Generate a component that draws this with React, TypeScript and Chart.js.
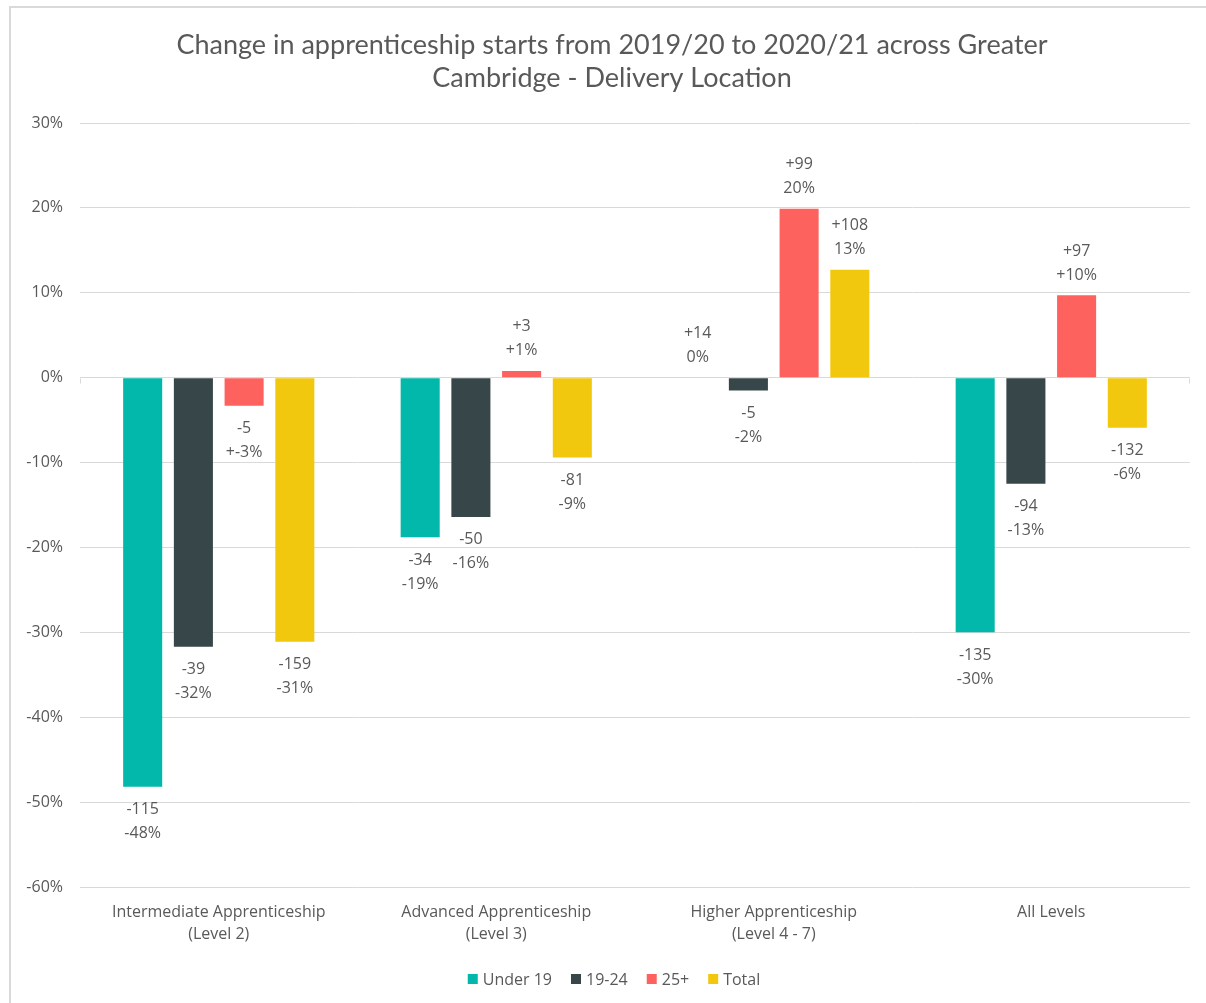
import React, { useEffect, useRef } from "react";
import { Chart, registerables } from "chart.js";

Chart.register(...registerables);

const titleLines = [
  "Change in apprenticeship starts from 2019/20 to 2020/21 across Greater",
  "Cambridge - Delivery Location",
];
const categories = [
  ["Intermediate Apprenticeship", "(Level 2)"],
  ["Advanced Apprenticeship", "(Level 3)"],
  ["Higher Apprenticeship", "(Level 4 - 7)"],
  ["All Levels"],
];
const seriesNames = ["Under 19", "19-24", "25+", "Total"];
const seriesColors = ["#01B8AA", "#374649", "#FD625E", "#F2C80F"];

const under19Pct = [-48.2, -18.8, 0, -30.0];
const age1924Pct = [-31.7, -16.4, -1.5, -12.5];
const age25Pct = [-3.3, 0.8, 19.9, 9.7];
const totalPct = [-31.1, -9.4, 12.7, -5.9];

const under19Counts = ["-115", "-34", "+14", "-135"];
const age1924Counts = ["-39", "-50", "-5", "-94"];
const age25Counts = ["-5", "+3", "+99", "+97"];
const totalCounts = ["-159", "-81", "+108", "-132"];

const under19Labels = ["-48%", "-19%", "0%", "-30%"];
const age1924Labels = ["-32%", "-16%", "-2%", "-13%"];
const age25Labels = ["+-3%", "+1%", "20%", "+10%"];
const totalLabels = ["-31%", "-9%", "13%", "-6%"];

const yMin = -60;
const yMax = 30;
const yStep = 10;

const TEXT = "#595959";
const FONT = "'Open Sans', 'Noto Sans', sans-serif";

const allValues = [under19Pct, age1924Pct, age25Pct, totalPct];
const allCounts = [under19Counts, age1924Counts, age25Counts, totalCounts];
const allLabels = [under19Labels, age1924Labels, age25Labels, totalLabels];

const overlayPlugin = {
  id: "overlay",
  afterDatasetsDraw(chart: any) {
    const ctx = chart.ctx;
    ctx.save();
    ctx.fillStyle = TEXT;
    ctx.textAlign = "center";
    ctx.textBaseline = "middle";
    ctx.font = `16px ${FONT}`;
    chart.data.datasets.forEach((ds: any, di: number) => {
      const meta = chart.getDatasetMeta(di);
      meta.data.forEach((el: any, i: number) => {
        const v = ds.data[i];
        const c = allCounts[di][i];
        const p = allLabels[di][i];
        if (v >= 0) {
          ctx.fillText(c, el.x, el.y - 44);
          ctx.fillText(p, el.x, el.y - 20);
        } else {
          ctx.fillText(c, el.x, el.y + 23);
          ctx.fillText(p, el.x, el.y + 47);
        }
      });
    });
    ctx.restore();
  },
  afterDraw(chart: any) {
    const ctx = chart.ctx;
    const area = chart.chartArea;
    const zeroY = Math.round(chart.scales.y.getPixelForValue(0)) + 0.5;
    ctx.save();
    // small end ticks on the zero line
    ctx.strokeStyle = "#D9D9D9";
    ctx.lineWidth = 1;
    ctx.beginPath();
    ctx.moveTo(Math.round(area.left) + 0.5, zeroY);
    ctx.lineTo(Math.round(area.left) + 0.5, zeroY + 5);
    ctx.moveTo(Math.round(area.right) - 0.5, zeroY);
    ctx.lineTo(Math.round(area.right) - 0.5, zeroY + 5);
    ctx.stroke();
    // title
    ctx.fillStyle = TEXT;
    ctx.textAlign = "center";
    ctx.textBaseline = "middle";
    ctx.font = `27px Lato, ${FONT}`;
    titleLines.forEach((t, i) => ctx.fillText(t, 612, 45 + i * 33));
    // legend
    ctx.font = `16px ${FONT}`;
    const box = 10;
    const gap = 5;
    const itemGap = 19;
    const widths = seriesNames.map((n) => ctx.measureText(n).width);
    const total = widths.reduce((a, w) => a + box + gap + w, 0) + itemGap * (seriesNames.length - 1);
    let x = 614 - total / 2;
    const y = 979;
    ctx.textAlign = "left";
    chart.data.datasets.forEach((ds: any, i: number) => {
      ctx.fillStyle = ds.backgroundColor;
      ctx.fillRect(x, y - box / 2, box, box);
      ctx.fillStyle = TEXT;
      ctx.fillText(ds.label, x + box + gap, y + 1);
      x += box + gap + widths[i] + itemGap;
    });
    ctx.restore();
  },
};

export default function App() {
  const ref = useRef<HTMLCanvasElement | null>(null);
  useEffect(() => {
    if (!ref.current) return;
    const chart = new Chart(ref.current, {
      type: "bar",
      data: {
        labels: categories as any,
        datasets: seriesNames.map((name, i) => ({
          label: name,
          data: allValues[i],
          backgroundColor: seriesColors[i],
          borderWidth: 0,
          categoryPercentage: 0.731,
          barPercentage: 0.77,
        })),
      },
      options: {
        animation: false,
        responsive: false,
        devicePixelRatio: 1,
        layout: { padding: { top: 123, left: 0, right: 16, bottom: 0 } },
        plugins: {
          legend: { display: false },
          title: { display: false },
          tooltip: { enabled: false },
        },
        scales: {
          y: {
            min: yMin,
            max: yMax,
            ticks: {
              stepSize: yStep,
              callback: (v: any) => `${v}%`,
              color: TEXT,
              font: { family: FONT, size: 16 },
              padding: 17,
            },
            grid: { color: "#D9D9D9", lineWidth: 1, drawTicks: false },
            border: { display: false },
            afterFit: (s: any) => {
              s.width = 80;
            },
          },
          x: {
            ticks: {
              color: TEXT,
              font: { family: FONT, size: 16, lineHeight: 1.4 },
              padding: 14,
              maxRotation: 0,
              autoSkip: false,
            },
            grid: { display: false, drawTicks: false },
            border: { display: false },
            afterFit: (s: any) => {
              s.height = 116;
            },
          },
        },
      },
      plugins: [overlayPlugin],
    });
    return () => chart.destroy();
  }, []);

  return (
    <div style={{ position: "fixed", left: 0, top: 0, width: 1206, height: 1003, background: "#fff" }}>
      <div
        style={{
          position: "absolute",
          left: 9,
          top: 6,
          right: 0,
          bottom: 0,
          borderTop: "2px solid #D9D9D9",
          borderLeft: "2px solid #D9D9D9",
        }}
      />
      <canvas
        ref={ref}
        width={1206}
        height={1003}
        style={{ position: "absolute", left: 0, top: 0, width: 1206, height: 1003 }}
      />
    </div>
  );
}
